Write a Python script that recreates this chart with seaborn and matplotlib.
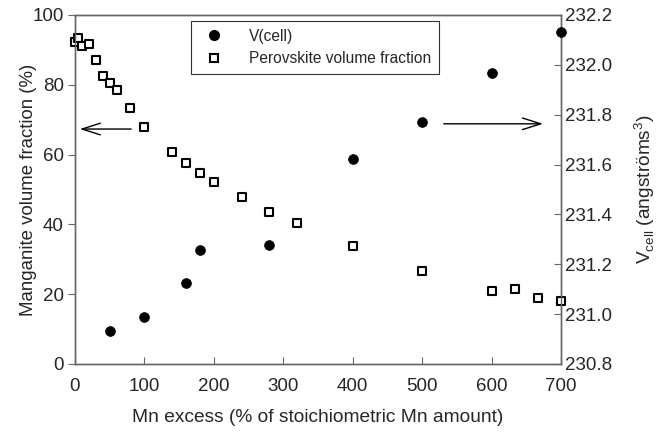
import matplotlib
matplotlib.use("Agg")
import matplotlib.pyplot as plt
import seaborn as sns
import pandas as pd
from matplotlib.lines import Line2D

sns.set_theme(style="white")
plt.rcParams['font.family'] = ['Liberation Sans', 'DejaVu Sans']

# Perovskite volume fraction (%), left axis
perov_x = [0, 5, 10, 20, 30, 40, 50, 60, 80, 100, 140, 160, 180, 200, 240, 280, 320,
           400, 500, 600, 633, 667, 700]
perov_y = [92.2, 93.3, 91.1, 91.6, 87.1, 82.6, 80.5, 78.6, 73.2, 67.9, 60.8, 57.6, 54.8,
           52.0, 47.7, 43.6, 40.3, 33.9, 26.5, 21.0, 21.4, 18.9, 17.9]

# Cell volume (angstrom^3), right axis
vcell_x = [50, 100, 160, 180, 280, 400, 500, 600, 700]
vcell_y = [230.932, 230.989, 231.123, 231.259, 231.276, 231.623, 231.772, 231.968, 232.132]

left_ticks = [0, 20, 40, 60, 80, 100]
right_ticks = [230.8, 231.0, 231.2, 231.4, 231.6, 231.8, 232.0, 232.2]
x_ticks = [0, 100, 200, 300, 400, 500, 600, 700]

df_p = pd.DataFrame({"x": perov_x, "y": perov_y})
df_v = pd.DataFrame({"x": vcell_x, "y": vcell_y})

fig, ax = plt.subplots(figsize=(6.57, 4.38), dpi=100)
fig.subplots_adjust(left=0.114, right=0.854, top=0.966, bottom=0.169)
ax2 = ax.twinx()

sns.scatterplot(data=df_p, x="x", y="y", ax=ax, marker="s", s=36,
                facecolor="white", edgecolor="black", linewidth=1.5,
                clip_on=False, zorder=5)
sns.scatterplot(data=df_v, x="x", y="y", ax=ax2, marker="o", s=50,
                color="black", edgecolor="black", linewidth=0.5,
                clip_on=False, zorder=5)

ax.set_xlim(0, 700)
ax.set_ylim(0, 100)
ax2.set_ylim(230.8, 232.2)
ax.set_xticks(x_ticks)
ax.set_yticks(left_ticks)
ax2.set_yticks(right_ticks)
ax2.set_yticklabels([f"{t:.1f}" for t in right_ticks])

spine_c = "#666666"
for a in (ax, ax2):
    for s in a.spines.values():
        s.set_color(spine_c)
        s.set_linewidth(1.0)

TS = 13.5
ax.tick_params(axis="x", direction="in", length=5, width=0.8, color=spine_c,
               labelsize=TS, pad=10, bottom=True)
ax.tick_params(axis="y", direction="out", length=5, width=0.8, color=spine_c,
               labelsize=TS, left=True, pad=3)
ax2.tick_params(axis="y", direction="in", length=5, width=0.8, color=spine_c,
                labelsize=TS, right=True, pad=3)

ax.set_xlabel("Mn excess (% of stoichiometric Mn amount)", fontsize=13.8, labelpad=10)
ax.set_ylabel("Manganite volume fraction (%)", fontsize=13.4, labelpad=-3)
ax2.set_ylabel(r"V$_{\mathregular{cell}}$ (angströms$^{\mathregular{3}}$)", fontsize=13.8, labelpad=14)

# arrows
ax.annotate("", xy=(7, 67.3), xytext=(81, 67.3),
            arrowprops=dict(arrowstyle="->,head_length=1.1,head_width=0.35", color="black", lw=1.0,
                            shrinkA=0, shrinkB=0))
ax.annotate("", xy=(674, 68.8), xytext=(531, 68.8),
            arrowprops=dict(arrowstyle="->,head_length=1.1,head_width=0.35", color="black", lw=1.0,
                            shrinkA=0, shrinkB=0))

handles = [
    Line2D([], [], marker="o", linestyle="none", color="black", markersize=7),
    Line2D([], [], marker="s", linestyle="none", markerfacecolor="white",
           markeredgecolor="black", markeredgewidth=1.5, markersize=6),
]
leg = ax2.legend(handles, ["V(cell)", "Perovskite volume fraction"],
                 loc="upper left", bbox_to_anchor=(0.239, 0.983), fontsize=11.2,
                 frameon=True, fancybox=False, edgecolor="black", borderpad=0.5,
                 handletextpad=1.2, labelspacing=0.5, borderaxespad=0)
leg.get_frame().set_linewidth(0.8)

fig.savefig("out.png", dpi=100)
